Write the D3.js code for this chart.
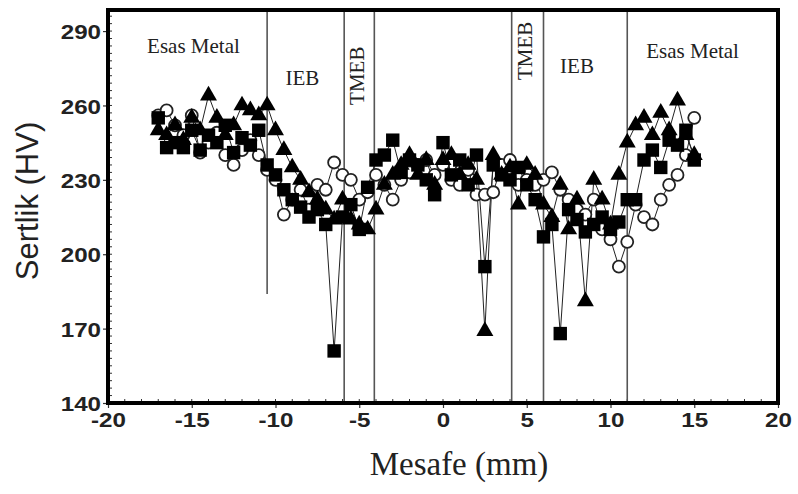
<!DOCTYPE html>
<html>
<head>
<meta charset="utf-8">
<script src="https://cdn.jsdelivr.net/npm/d3@7"></script>
<style>
  body { margin: 0; background: #fff; }
  svg text { fill: #222; }
</style>
</head>
<body>
<svg id="chart" width="798" height="494"></svg>
<script>
// mesafe (mm) for each measurement point
var mesafe = [-17, -16.5, -16, -15.5, -15, -14.5, -14, -13.5, -13, -12.5, -12, -11.5, -11, -10.5, -10, -9.5,
    -9, -8.5, -8, -7.5, -7, -6.5, -6, -5.5, -5, -4.5, -4, -3.5, -3, -2.5, -2, -1.5, -1, -0.5,
    0, 0.5, 1, 1.5, 2, 2.5, 3, 3.5, 4, 4.5, 5, 5.5, 6, 6.5, 7, 7.5, 8, 8.5, 9, 9.5, 10, 10.5,
    11, 11.5, 12, 12.5, 13, 13.5, 14, 14.5, 15];

var kareSeri = [255, 243, 245, 243, 250, 242, 248, 245, 252, 241, 247, 244, 250, 236, 232, 226,
    222, 219, 215, 218, 212, 161, 215, 220, 210, 227, 238, 240, 246, 233, 238, 236, 230, 224,
    245, 232, 238, 228, 240, 195, 236, 232, 230, 235, 228, 222, 207, 212, 168, 218, 214, 209, 212, 215, 210, 213,
    222, 222, 238, 242, 235, 246, 244, 250, 238];

var ucgenSeri = [250, 248, 252, 246, 255, 250, 264, 255, 248, 252, 260, 258, 256, 260, 250, 242,
    235, 230, 225, 222, 218, 214, 222, 214, 212, 210, 218, 228, 232, 236, 240, 232, 238, 228,
    238, 240, 232, 236, 230, 169, 240, 232, 235, 220, 236, 232, 220, 215, 228, 210, 222, 181, 230, 222, 212, 232,
    245, 252, 255, 248, 257, 250, 262, 248, 240];

var daireSeri = [256, 258, 252, 248, 256, 241, 245, 249, 240, 236, 242, 246, 240, 234, 230, 216,
    222, 226, 218, 228, 226, 237, 232, 230, 222, 225, 232, 228, 222, 230, 233, 236, 238, 232,
    236, 230, 228, 234, 224, 224, 225, 236, 238, 228, 230, 228, 230, 233, 226, 222, 218, 216, 222, 210, 206, 195,
    205, 220, 215, 212, 222, 228, 232, 240, 255];

// bolge sinirlari
var sinirlar = [-10.5, -5.9, -4.1, 4.1, 6, 11];
var sinirAlt = [184, 140, 140, 140, 140, 140];

var bolgeler = [
    {ad: "Esas Metal", x: -14.9, y: 283, dik: false},
    {ad: "IEB", x: -8.4, y: 270, dik: false},
    {ad: "TMEB", x: -5.0, y: 272, dik: true},
    {ad: "TMEB", x: 5.0, y: 282, dik: true},
    {ad: "IEB", x: 8.0, y: 275, dik: false},
    {ad: "Esas Metal", x: 14.9, y: 281, dik: false}
];

var xTicks = [-20, -15, -10, -5, 0, 5, 10, 15, 20];
var yTicks = [140, 170, 200, 230, 260, 290];

var svg = d3.select("#chart");
var margin = {left: 108, right: 20, top: 10, bottom: 91};
var width = 798 - margin.left - margin.right,
    height = 494 - margin.top - margin.bottom;

var x = d3.scaleLinear().domain([-20, 20]).range([0, width]);
var y = d3.scaleLinear().domain([140, 298.5]).range([height, 0]);

var g = svg.append("g").attr("transform", "translate(" + margin.left + "," + margin.top + ")");

// minor ticks inside the frame
g.append("g").selectAll("line")
    .data(d3.range(-20, 21, 1))
    .enter().append("line")
    .attr("x1", function (d) { return x(d); })
    .attr("x2", function (d) { return x(d); })
    .attr("y1", height)
    .attr("y2", height - 4)
    .attr("stroke", "#333").attr("stroke-width", 1);

g.append("g").selectAll("line")
    .data(d3.range(143, 298, 3))
    .enter().append("line")
    .attr("x1", 0).attr("x2", 4)
    .attr("y1", function (d) { return y(d); })
    .attr("y2", function (d) { return y(d); })
    .attr("stroke", "#333").attr("stroke-width", 1);

// region boundaries
g.append("g").selectAll("line")
    .data(sinirlar)
    .enter().append("line")
    .attr("x1", function (d) { return x(d); })
    .attr("x2", function (d) { return x(d); })
    .attr("y1", 0)
    .attr("y2", function (d, i) { return y(sinirAlt[i]); })
    .attr("stroke", "#555").attr("stroke-width", 1.6);

// region labels
g.append("g").selectAll("text")
    .data(bolgeler)
    .enter().append("text")
    .attr("transform", function (d) {
        return "translate(" + x(d.x) + "," + y(d.y) + ")" + (d.dik ? " rotate(-90)" : "");
    })
    .attr("text-anchor", "middle")
    .attr("dominant-baseline", "middle")
    .style("font-family", "'Liberation Serif', serif")
    .style("font-size", "21px")
    .text(function (d) { return d.ad; });

// connecting lines
var line = d3.line()
    .x(function (d, i) { return x(mesafe[i]); })
    .y(function (d) { return y(d); });

[daireSeri, ucgenSeri, kareSeri].forEach(function (seri) {
    g.append("path")
        .datum(seri)
        .attr("fill", "none")
        .attr("stroke", "#222")
        .attr("stroke-width", 1)
        .attr("d", line);
});

// markers
g.append("g").selectAll("circle")
    .data(daireSeri)
    .enter().append("circle")
    .attr("cx", function (d, i) { return x(mesafe[i]); })
    .attr("cy", function (d) { return y(d); })
    .attr("r", 6)
    .attr("fill", "#fff")
    .attr("stroke", "#222")
    .attr("stroke-width", 1.8);

var ucgen = d3.symbol().type(d3.symbolTriangle).size(125);
g.append("g").selectAll("path")
    .data(ucgenSeri)
    .enter().append("path")
    .attr("d", ucgen)
    .attr("transform", function (d, i) { return "translate(" + x(mesafe[i]) + "," + y(d) + ")"; })
    .attr("fill", "#000");

var kare = d3.symbol().type(d3.symbolSquare).size(180);
g.append("g").selectAll("path")
    .data(kareSeri)
    .enter().append("path")
    .attr("d", kare)
    .attr("transform", function (d, i) { return "translate(" + x(mesafe[i]) + "," + y(d) + ")"; })
    .attr("fill", "#000");

// axes
var xAxis = g.append("g")
    .attr("transform", "translate(0," + height + ")")
    .call(d3.axisBottom(x).tickValues(xTicks).tickSize(5).tickPadding(4).tickFormat(function (d) { return String(d); }));
var yAxis = g.append("g")
    .call(d3.axisLeft(y).tickValues(yTicks).tickSize(5).tickPadding(2));

[xAxis, yAxis].forEach(function (ax) {
    ax.select(".domain").remove();
    ax.selectAll("line").attr("stroke", "#333").attr("stroke-width", 1.2);
    ax.selectAll("text")
        .style("font-family", "'Liberation Sans', Arial, sans-serif")
        .style("font-size", "21px")
        .style("font-weight", "bold")
        .attr("fill", "#333")
        .attr("transform", "scale(1.15,1)");
});
yAxis.selectAll("text").attr("x", -7 / 1.15).attr("dy", "0.36em");

// frame
g.append("rect")
    .attr("x", 0).attr("y", 0)
    .attr("width", width).attr("height", height)
    .attr("fill", "none")
    .attr("stroke", "#000")
    .attr("stroke-width", 4);

// axis titles
svg.append("text")
    .attr("transform", "translate(38,201) rotate(-90)")
    .attr("text-anchor", "middle")
    .style("font-family", "'Liberation Sans', Arial, sans-serif")
    .style("font-size", "31px")
    .attr("fill", "#333")
    .text("Sertlik (HV)");

svg.append("text")
    .attr("x", 459)
    .attr("y", 475)
    .attr("text-anchor", "middle")
    .style("font-family", "'Liberation Serif', serif")
    .style("font-size", "33px")
    .text("Mesafe (mm)");
</script>
</body>
</html>
